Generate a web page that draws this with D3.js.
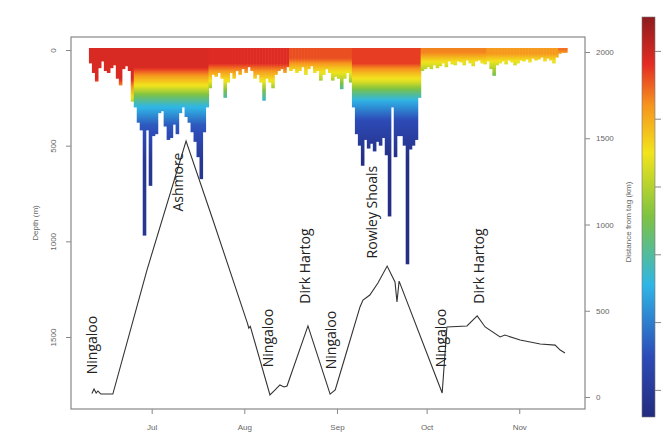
<!DOCTYPE html>
<html lang="en">
<head>
<meta charset="UTF-8">
<title>Dive depth and distance from tagging site</title>
<script src="https://cdn.jsdelivr.net/npm/d3@7"></script>
<style>
  body { margin: 0; background: #fff; }
  svg { display: block; }
  .axis { color: #777; }
  .axis text { font: 8px "Liberation Sans", sans-serif; fill: #666; }
  .axis line { stroke: #888; }
  .axis path { display: none; }
  .site { font: 14px "Open Sans", sans-serif; fill: #222; }
  .alabel { font: 8px "Liberation Sans", sans-serif; fill: #666; }
</style>
</head>
<body>
<svg width="665" height="433"></svg>
<script>
// daily maximum dive depth (m), one bar per day from 10 June
const diveStart = "2013-06-10";
const maxDepth = [
  70,120,165,95,60,110,120,95,80,150,185,100,85,110,
  270,300,380,420,970,420,710,450,440,330,320,400,470,460,390,440,330,300,350,380,430,480,560,675,430,300,200,
  130,140,120,150,250,170,120,150,110,130,100,120,90,110,150,130,170,265,150,170,200,130,110,100,120,
  90,110,100,120,110,90,130,100,85,120,110,160,130,100,120,160,140,150,205,150,120,170,
  300,440,500,605,470,515,490,530,480,500,460,550,870,300,560,450,450,500,1120,520,500,470,250,
  110,100,90,100,80,95,85,70,90,60,75,80,60,65,80,55,70,85,60,55,70,75,60,100,135,
  80,70,60,75,55,65,80,70,55,60,50,65,45,55,50,40,60,45,55,70,40,20,15,15
];

// water temperature: surface value and mixed layer depth per period
const periodStart = ["2013-06-10","2013-06-25","2013-07-20","2013-08-16","2013-09-06","2013-09-29","2013-10-21","2013-11-14"];
const surfaceTemp = [21.8, 21.8, 21.7, 21.2, 21.4, 20.6, 20.3, 20.8];
const mixedLayer  = [150, 90, 70, 45, 70, 15, 20, 0];
// cooling below the mixed layer
const dropDepth = [0, 20, 50, 100, 150, 200, 300, 500];
const dropTemp  = [0, 0.7, 1.65, 2.95, 4.95, 6.5, 8.5, 10.0];

// distance from tagging site (km)
const trackDates = [
  "2013-06-11 00:00","2013-06-11 17:00","2013-06-12 10:00","2013-06-13 00:00","2013-06-13 17:00","2013-06-14 00:00",
  "2013-06-18 00:00","2013-06-29 10:00","2013-07-12 12:00","2013-07-21 12:00","2013-08-02 00:00","2013-08-02 12:00",
  "2013-08-03 00:00","2013-08-09 14:00","2013-08-11 07:00","2013-08-12 22:00","2013-08-14 07:00","2013-08-15 07:00",
  "2013-08-22 07:00","2013-08-29 17:00","2013-08-31 10:00","2013-09-03 17:00","2013-09-08 17:00","2013-09-09 17:00",
  "2013-09-12 00:00","2013-09-14 17:00","2013-09-17 19:00","2013-09-20 10:00","2013-09-21 02:00","2013-09-21 19:00",
  "2013-10-06 05:00","2013-10-07 19:00","2013-10-14 12:00","2013-10-17 22:00","2013-10-20 14:00","2013-10-25 14:00",
  "2013-10-27 05:00","2013-11-01 07:00","2013-11-08 00:00","2013-11-13 00:00","2013-11-14 17:00","2013-11-16 07:00"
];
const trackKm = [
  20, 46, 23, 35, 22, 17,
  17, 736, 1484, 1026, 430, 400,
  410, 12, 41, 70, 58, 64,
  412, 17, 41, 232, 522, 562,
  591, 661, 759, 667, 551, 672,
  23, 406, 412, 470, 406, 348,
  359, 330, 307, 301, 272, 255
];

// site labels
const siteNames = ["Ningaloo","Ashmore","Ningaloo","Dirk Hartog","Ningaloo","Rowley Shoals","Ningaloo","Dirk Hartog"];
const siteDates = ["2013-06-11 00:00","2013-07-09 19:00","2013-08-08 22:00","2013-08-21 07:00","2013-08-29 17:00","2013-09-12 17:00","2013-10-05 12:00","2013-10-18 05:00"];
const siteKm    = [301, 1246, 342, 759, 330, 1072, 342, 759];

// ticks
const depthTicks = [0, 500, 1000, 1500];
const kmTicks = [0, 500, 1000, 1500, 2000];
const monthTicks = ["2013-07-01","2013-08-01","2013-09-01","2013-10-01","2013-11-01"];
const monthLabels = ["Jul","Aug","Sep","Oct","Nov"];
const tempTicks = [12, 14, 16, 18, 20, 22];
const jetTemps  = [11.2, 13.0, 15.1, 17.1, 19.0, 20.4, 21.6, 23.0];
const jetColors = ["#232b7e","#2d4cb8","#2fb6e6","#7dc242","#f2e41c","#f6941e","#e42c24","#8e1b1e"];

const parseDay = d3.timeParse("%Y-%m-%d");
const parseTime = d3.timeParse("%Y-%m-%d %H:%M");

const svg = d3.select("svg");
const defs = svg.append("defs");

const x = d3.scaleTime()
  .domain([parseDay("2013-06-04"), parseDay("2013-11-23")])
  .range([71, 585]);
const yDepth = d3.scaleLinear().domain([0, 1500]).range([50, 337]);
const yKm = d3.scaleLinear().domain([0, 2000]).range([397, 52]);
const color = d3.scaleLinear().domain(jetTemps).range(jetColors).clamp(true);
const drop = d3.scaleLinear().domain(dropDepth).range(dropTemp).clamp(true);
const periods = periodStart.map(parseDay);

// dive bars, coloured down the water column
const start = parseDay(diveStart);
const gradDepth = 1200;
maxDepth.forEach((dep, i) => {
  const day = d3.timeDay.offset(start, i);
  const p = d3.bisectRight(periods, day) - 1;
  const grad = defs.append("linearGradient")
    .attr("id", "g" + i)
    .attr("gradientUnits", "userSpaceOnUse")
    .attr("x1", 0).attr("x2", 0)
    .attr("y1", yDepth(0)).attr("y2", yDepth(gradDepth));
  d3.range(0, gradDepth + 1, 10).forEach(z => {
    const t = surfaceTemp[p] - drop(Math.max(0, z - mixedLayer[p]));
    grad.append("stop").attr("offset", z / gradDepth).attr("stop-color", color(t));
  });
  const x0 = x(day), x1 = x(d3.timeDay.offset(day, 1));
  svg.append("rect")
    .attr("x", x0).attr("width", x1 - x0 + 0.6)
    .attr("y", yDepth(0) - 2).attr("height", yDepth(dep) - yDepth(0) + 2)
    .attr("fill", `url(#g${i})`);
});

// distance track
const track = trackDates.map((d, i) => [parseTime(d), trackKm[i]]);
svg.append("path")
  .datum(track)
  .attr("fill", "none")
  .attr("stroke", "#333")
  .attr("stroke-width", 1.1)
  .attr("d", d3.line().x(d => x(d[0])).y(d => yKm(d[1])));

// site names
siteNames.forEach((name, i) => {
  svg.append("text")
    .attr("class", "site")
    .attr("transform", `translate(${x(parseTime(siteDates[i]))},${yKm(siteKm[i])}) rotate(-90)`)
    .attr("text-anchor", "middle")
    .attr("dominant-baseline", "central")
    .text(name);
});

// frame
svg.append("rect")
  .attr("x", 71).attr("y", 37).attr("width", 514).attr("height", 372)
  .attr("fill", "none").attr("stroke", "#888").attr("stroke-width", 1.2);

// left depth axis
const left = svg.append("g").attr("class", "axis").attr("transform", "translate(71,0)")
  .call(d3.axisLeft(yDepth).tickValues(depthTicks).tickSize(5).tickFormat(d3.format("d")));
left.selectAll("text")
  .attr("transform", "rotate(-90)")
  .attr("x", 0).attr("y", -15).attr("dy", 0)
  .attr("text-anchor", "middle");
svg.append("text").attr("class", "alabel")
  .attr("transform", "translate(38,223) rotate(-90)")
  .attr("text-anchor", "middle").text("Depth (m)");

// right distance axis
svg.append("g").attr("class", "axis").attr("transform", "translate(585,0)")
  .call(d3.axisRight(yKm).tickValues(kmTicks).tickSize(5).tickPadding(6).tickFormat(d3.format("d")));
svg.append("text").attr("class", "alabel")
  .attr("transform", "translate(631,222) rotate(-90)")
  .attr("text-anchor", "middle").text("Distance from tag (km)");

// bottom month axis
svg.append("g").attr("class", "axis").attr("transform", "translate(0,409)")
  .call(d3.axisBottom(x).tickValues(monthTicks.map(parseDay))
    .tickFormat((d, i) => monthLabels[i]).tickSize(5).tickPadding(10))
  .selectAll("text").attr("fill", "#666");

// colour bar
const yTemp = d3.scaleLinear().domain([11.2, 23.0]).range([417, 17]);
const cb = defs.append("linearGradient").attr("id", "cbar")
  .attr("x1", 0).attr("x2", 0).attr("y1", 1).attr("y2", 0);
jetTemps.forEach((t, i) => {
  cb.append("stop").attr("offset", (t - 11.2) / (23.0 - 11.2)).attr("stop-color", jetColors[i]);
});
svg.append("rect")
  .attr("x", 642).attr("y", 17).attr("width", 13).attr("height", 400)
  .attr("fill", "url(#cbar)").attr("stroke", "#777").attr("stroke-width", 0.6);
svg.append("g").attr("class", "axis").attr("transform", "translate(655,0)")
  .call(d3.axisRight(yTemp).tickValues(tempTicks).tickSize(6).tickFormat(""));
</script>
</body>
</html>
